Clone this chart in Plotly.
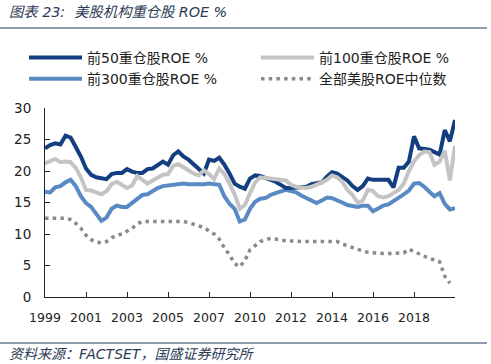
import plotly.graph_objects as go

# x positions: 8 steps between labelled ticks
tick_labels = ["1999", "2001", "2003", "2005", "2007", "2010", "2012", "2014", "2016", "2018"]
tick_pos = [0, 8, 16, 24, 32, 40, 48, 56, 64, 72]

top50 = [23.6, 24.1, 24.4, 24.2, 25.6, 25.3, 23.8, 22.3, 20.4, 19.4,
         19.0, 18.9, 18.7, 19.5, 19.7, 19.7, 20.3, 19.9, 19.7, 19.7,
         20.3, 20.4, 21.0, 21.5, 21.0, 22.5, 23.1, 22.3, 21.8, 21.0,
         20.2, 19.6, 21.8, 21.6, 22.1, 21.0, 19.6, 18.0, 17.5, 17.2,
         18.8, 19.3, 19.2, 18.9, 18.7, 18.3, 17.8, 17.3, 17.3, 17.4,
         17.4, 17.5, 17.9, 18.0, 18.2, 19.1, 19.8, 19.6, 19.0, 18.5,
         17.6, 17.0, 17.6, 18.8, 18.6, 18.6, 18.6, 18.6, 17.4, 20.5,
         20.5, 21.5, 25.5, 23.6, 23.5, 23.4, 23.0, 22.6, 26.5, 24.7,
         28.1]
top100 = [21.2, 21.5, 21.9, 21.4, 21.5, 21.4, 20.5, 19.0, 17.0, 16.9,
          16.6, 16.3, 16.8, 17.9, 18.3, 17.8, 17.3, 17.7, 19.2, 18.6,
          18.0, 18.5, 19.0, 19.4, 19.5, 20.8, 21.1, 20.6, 20.0, 19.6,
          19.3, 20.1, 19.5, 18.7, 20.4, 19.5, 18.0, 16.3, 14.0, 14.6,
          16.5, 18.2, 19.0, 18.9, 18.8, 18.8, 18.6, 18.5, 17.8, 17.5,
          17.4, 17.3, 17.5, 17.8, 18.2, 18.6, 19.3, 19.0, 18.3, 17.0,
          16.2, 15.0, 15.3, 17.0, 16.8, 16.0, 15.8, 16.0, 16.5, 17.0,
          18.0, 20.0, 21.5, 22.5, 23.1, 23.0, 21.0, 21.5, 23.2, 18.5,
          24.0]
top300 = [16.7, 16.6, 17.4, 17.6, 18.2, 18.6, 17.6, 16.0, 14.9, 14.3,
          13.2, 12.1, 12.6, 14.0, 14.5, 14.3, 14.3, 15.0, 15.7, 16.2,
          16.3, 16.8, 17.3, 17.6, 17.7, 17.9, 18.0, 18.0, 17.9, 17.9,
          17.8, 17.9, 18.0, 17.9, 17.8, 16.0, 14.8, 14.0, 12.0, 12.3,
          14.0, 15.1, 15.6, 15.7, 16.2, 16.5, 16.8, 17.0, 16.8, 16.6,
          16.1, 15.7, 15.2, 14.9, 15.3, 15.8, 15.7, 15.4, 15.0, 14.6,
          14.4, 14.3, 14.5, 14.5, 13.6, 14.0, 14.5, 14.7, 15.2, 15.8,
          16.3, 16.9, 18.0, 18.1, 17.5, 16.7, 16.0, 16.5, 14.8, 13.9,
          14.1]
median_all = [12.5, 12.5, 12.5, 12.5, 12.5, 12.3, 11.7, 10.9, 9.8, 9.1,
              8.7, 8.6, 8.8, 9.4, 9.8, 10.0, 10.4, 10.9, 11.6, 12.0,
              12.0, 12.0, 12.0, 12.0, 12.0, 12.0, 12.1, 12.0, 11.8, 11.6,
              11.3, 11.0, 10.5, 10.0, 9.2, 7.8, 6.7, 5.3, 4.8, 5.8,
              7.5, 8.2, 8.8, 9.1, 9.3, 9.2, 9.0, 8.9, 8.9, 8.8,
              8.8, 8.8, 8.8, 8.8, 8.8, 8.8, 8.9, 8.8, 8.4, 8.1,
              7.8, 7.5, 7.3, 7.1, 7.0, 7.0, 6.9, 6.9, 6.9, 7.0,
              7.0, 7.6, 7.2, 6.9, 6.5, 6.1, 5.9, 5.6, 3.3, 2.2]

x_all = list(range(len(top50)))
x_med = list(range(len(median_all)))

FONT = "DejaVu Sans, Noto Sans CJK SC, sans-serif"

fig = go.Figure()
# drawing order: 300, 50, 100 (grey on top), median
fig.add_trace(go.Scatter(x=x_all, y=top300, mode="lines", name="前300重仓股ROE %",
                         legend="legend", legendgroup="g300", legendrank=2,
                         line=dict(color="#5a8ac4", width=4)))
fig.add_trace(go.Scatter(x=x_all, y=top50, mode="lines", name="前50重仓股ROE %",
                         legend="legend", legendgroup="g50", legendrank=1,
                         line=dict(color="#133f80", width=4)))
fig.add_trace(go.Scatter(x=x_all, y=top100, mode="lines", name="前100重仓股ROE %",
                         legend="legend2", legendgroup="g100", legendrank=1,
                         line=dict(color="#c4c4c4", width=4)))
fig.add_trace(go.Scatter(x=x_med, y=median_all, mode="lines", name="全部美股ROE中位数",
                         legend="legend2", legendgroup="gmed", legendrank=2,
                         line=dict(color="#8a8a8a", width=3.5, dash="3.5px,4.2px")))

leg_common = dict(orientation="v", xref="container", xanchor="left",
                  yref="container", y=1 - 42 / 364, yanchor="top",
                  font=dict(family=FONT, size=14, color="#222222"),
                  bgcolor="rgba(0,0,0,0)", itemwidth=53, tracegroupgap=2,
                  traceorder="normal")

fig.update_layout(
    width=491, height=364,
    margin=dict(l=45, r=36, t=108, b=67, autoexpand=False),
    paper_bgcolor="white", plot_bgcolor="white",
    font=dict(family=FONT, size=12, color="#222222"),
    showlegend=True,
    legend=dict(x=24 / 491, **leg_common),
    legend2=dict(x=256 / 491, **leg_common),
    xaxis=dict(range=[0, 80], tickmode="array", tickvals=tick_pos, ticktext=tick_labels,
               ticks="inside", ticklen=5, tickcolor="#222", showline=True, linecolor="#222",
               linewidth=1, showgrid=False, zeroline=False, ticklabelstandoff=9,
               tickfont=dict(family=FONT, size=12.5, color="#222")),
    yaxis=dict(range=[0, 30], tickmode="array", tickvals=[0, 5, 10, 15, 20, 25, 30],
               ticks="inside", ticklen=5, tickcolor="#222", showline=True, linecolor="#222",
               linewidth=1, showgrid=False, zeroline=False, ticklabelstandoff=10,
               tickfont=dict(family=FONT, size=13.5, color="#222")),
)

fig.add_annotation(text="<i>图表 23:  美股机构重仓股 ROE %</i>", xref="paper", yref="paper",
                   x=-38 / 410, y=1 + (108 - 12) / 189, xanchor="left", yanchor="middle",
                   showarrow=False, font=dict(family=FONT, size=14.3, color="#2b3a55"))
fig.add_annotation(text="<i>资料来源：FACTSET，国盛证券研究所</i>", xref="paper", yref="paper",
                   x=-38 / 410, y=-(354 - 297) / 189, xanchor="left", yanchor="middle",
                   showarrow=False, font=dict(family=FONT, size=14, color="#2b3a55"))
fig.add_shape(type="line", xref="paper", yref="paper",
              x0=-45 / 410, x1=(487 - 45) / 410, y0=1 + (108 - 28) / 189, y1=1 + (108 - 28) / 189,
              line=dict(color="#1f3a5f", width=1))
fig.add_shape(type="line", xref="paper", yref="paper",
              x0=-45 / 410, x1=(487 - 45) / 410, y0=-(343 - 297) / 189, y1=-(343 - 297) / 189,
              line=dict(color="#1f3a5f", width=1))

fig.write_html("out.html", config={"displayModeBar": False},
               post_script="document.body.style.margin='0';document.body.style.overflow='hidden';")
